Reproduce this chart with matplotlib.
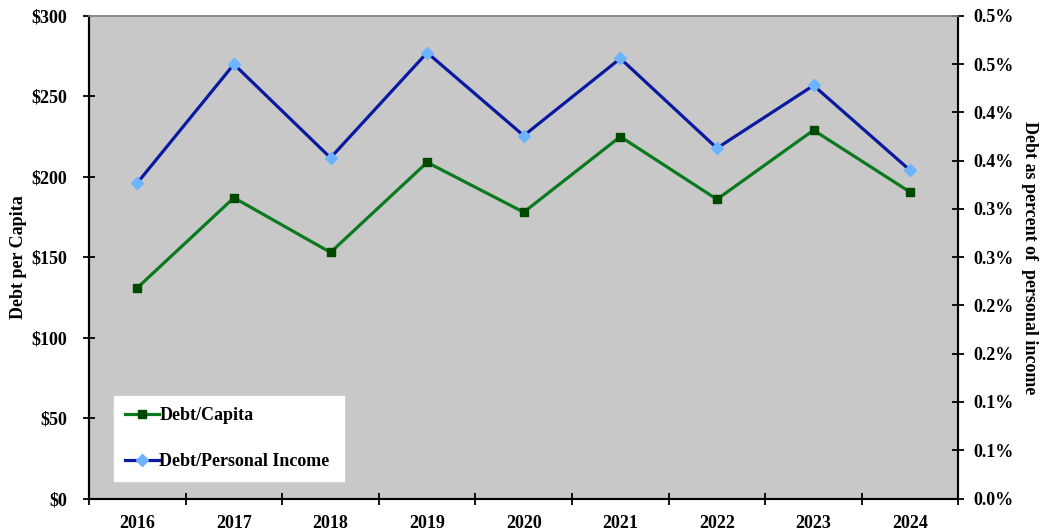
from decimal import Decimal, ROUND_HALF_UP

import numpy as np
import matplotlib
matplotlib.use("Agg")
import matplotlib.pyplot as plt
from matplotlib.ticker import FuncFormatter

years = ["2016", "2017", "2018", "2019", "2020", "2021", "2022", "2023", "2024"]
debt_per_capita = [131, 187, 153, 209, 178, 225, 186, 229, 190.5]
debt_pct_income = [0.327, 0.450, 0.353, 0.462, 0.376, 0.456, 0.363, 0.428, 0.340]

plt.rcParams["font.family"] = ["Liberation Serif", "DejaVu Serif"]
plt.rcParams["font.weight"] = "bold"
plt.rcParams["font.size"] = 13

fig = plt.figure(figsize=(10.41, 5.31), dpi=100)
ax = fig.add_axes([0.0855, 0.0612, 0.8352, 0.9087])
ax.set_facecolor("#c8c8c8")
ax2 = ax.twinx()

x = np.arange(len(years))

l1, = ax.plot(x, debt_per_capita, color="#0b7a1e", lw=2.3, marker="s", ms=6,
              mfc="#004a00", mec="#004a00", label="Debt/Capita")
l2, = ax2.plot(x, debt_pct_income, color="#0a1aa0", lw=2.3, marker="D", ms=6,
               mfc="#6cb4ff", mec="#6cb4ff", label="Debt/Personal Income")

ax.set_xlim(-0.5, len(years) - 0.5)
ax.set_ylim(0, 300)
ax.set_yticks(np.arange(0, 301, 50))
ax.yaxis.set_major_formatter(FuncFormatter(lambda v, p: f"${v:.0f}"))

ax2.set_ylim(0, 0.5)
ax2.set_yticks(np.arange(0, 0.5001, 0.05))


def pct_label(v, p):
    # round half up, the way spreadsheets print it
    d = Decimal(str(round(v, 4))).quantize(Decimal("0.1"), rounding=ROUND_HALF_UP)
    return f"{d}%"


ax2.yaxis.set_major_formatter(FuncFormatter(pct_label))

# category labels at centres, ticks on the boundaries
ax.set_xticks(x)
ax.set_xticklabels(years)
ax.set_xticks(np.arange(-0.5, len(years), 1), minor=True)
ax.tick_params(axis="x", which="major", length=0, pad=12)
ax.tick_params(axis="x", which="minor", direction="inout", length=8, width=1.3)
ax.tick_params(axis="y", direction="inout", length=8, width=1.3, pad=12)
ax2.tick_params(axis="y", direction="inout", length=8, width=1.3, pad=7)

for a in (ax, ax2):
    for s in ("left", "right", "bottom"):
        a.spines[s].set_color("black")
        a.spines[s].set_linewidth(1.5)
    a.spines["top"].set_color("#8c8c8c")
    a.spines["top"].set_linewidth(1.2)

ax.set_ylabel("Debt per Capita", fontsize=13, fontweight="bold", labelpad=3)
ax2.set_ylabel("Debt as percent of  personal income", fontsize=13, fontweight="bold",
               rotation=-90, labelpad=17)

leg = ax2.legend(handles=[l1, l2], loc="center", bbox_to_anchor=(0.029, 0.030, 0.264, 0.189),
                 mode="expand", frameon=True, fancybox=False, facecolor="white",
                 edgecolor="white", framealpha=1, fontsize=13, handlelength=1.9,
                 handletextpad=0.0, labelspacing=1.6, borderaxespad=0, borderpad=0.6)
for t in leg.get_texts():
    t.set_fontweight("bold")

fig.savefig("out.png", dpi=100, facecolor="white")
